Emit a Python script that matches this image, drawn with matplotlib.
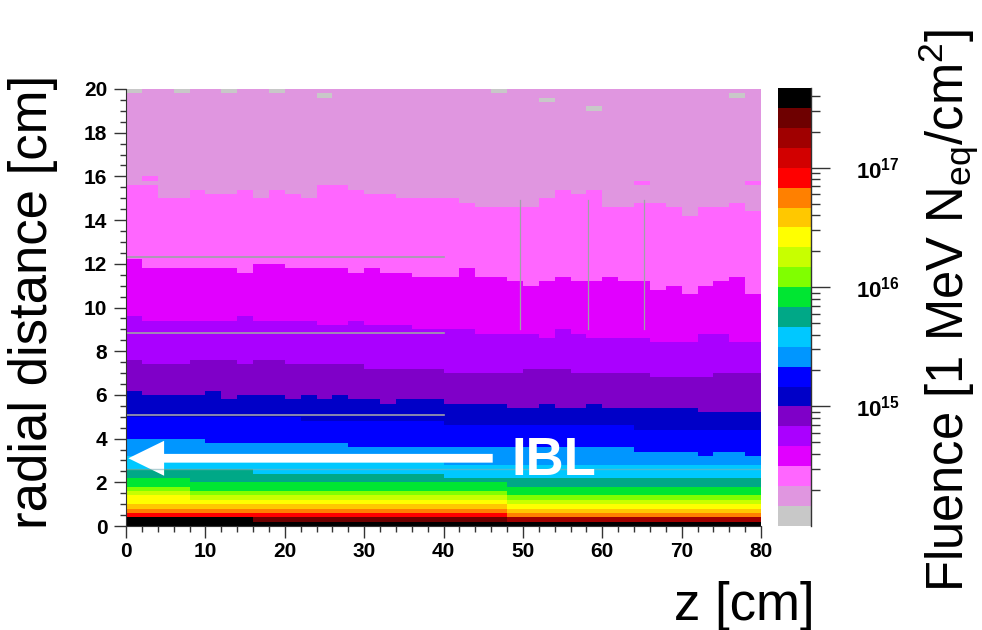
import numpy as np
import matplotlib
matplotlib.use("Agg")
import matplotlib.pyplot as plt
from matplotlib.colors import ListedColormap, LogNorm
from matplotlib.patches import FancyArrow
from matplotlib.ticker import LogLocator, MultipleLocator, NullFormatter

plt.rcParams['font.family'] = ['Liberation Sans', 'DejaVu Sans']
plt.rcParams['mathtext.fontset'] = 'custom'
plt.rcParams['mathtext.rm'] = 'Liberation Sans'
plt.rcParams['mathtext.bf'] = 'Liberation Sans:bold'
plt.rcParams['mathtext.it'] = 'Liberation Sans:italic'
plt.rcParams['mathtext.default'] = 'regular'

# palette bands (log10 fluence from 14 to 17.67 in steps of 1/6), low -> high
band_colors = ["#c8c8c8", "#e096e0", "#ff66ff", "#e100ff", "#aa00ff", "#7f00c8",
               "#0000c8", "#0000ff", "#0096ff", "#00c8ff", "#00a887", "#00e632",
               "#80ff00", "#c8ff00", "#ffff00", "#ffc800", "#ff8000", "#ff0000",
               "#d20000", "#a00000", "#6e0000", "#000000"]

# histogram binning: 2 cm in z, 0.2 cm in r
z_bin = 2.0
r_bin = 0.2

# upper edge (r, cm) of each band vs z, as steps (z_from, r_top), band 2 .. 21
pink_top = [(0, 15.6), (4, 15.0), (8, 15.4), (10, 15.2), (14, 15.4), (16, 15.0), (18, 15.4),
            (20, 15.2), (22, 15.0), (24, 15.6), (28, 15.4), (30, 15.2), (34, 15.0),
            (42, 14.8), (44, 14.6), (52, 15.0), (54, 15.4), (56, 15.2), (58, 15.4),
            (60, 14.6), (64, 14.8), (68, 14.6), (70, 14.2), (72, 14.6), (76, 14.8), (78, 14.4)]
magenta_top = [(0, 12.2), (2, 11.8), (14, 11.6), (16, 12.0), (20, 11.8), (28, 11.6), (30, 11.8),
               (32, 11.6), (36, 11.4), (42, 11.8), (44, 11.4), (48, 11.2), (50, 11.0), (52, 11.2),
               (54, 11.4), (56, 11.2), (60, 11.4), (62, 11.2), (66, 10.8), (68, 11.0), (70, 10.6),
               (72, 11.0), (74, 11.2), (76, 11.4), (78, 10.6)]
violet_top = [(0, 9.6), (2, 9.4), (14, 9.6), (16, 9.4), (24, 9.2), (28, 9.4), (30, 9.2), (36, 9.0),
              (44, 8.8), (52, 8.6), (54, 9.0), (56, 8.8), (58, 8.6), (66, 8.4), (72, 8.8), (76, 8.4)]
purple_top = [(0, 7.6), (2, 7.4), (8, 7.6), (14, 7.4), (16, 7.6), (20, 7.4), (30, 7.2), (40, 7.0),
              (50, 7.2), (56, 7.0), (66, 6.8), (74, 7.0)]
darkblue_top = [(0, 6.2), (2, 6.0), (10, 6.2), (12, 5.8), (14, 6.0), (20, 5.8), (22, 6.0), (24, 5.8),
                (26, 6.0), (28, 5.8), (32, 5.6), (34, 5.8), (40, 5.6), (48, 5.4), (52, 5.6), (54, 5.4),
                (58, 5.6), (60, 5.4), (72, 5.2)]
blue_top = [(0, 5.0), (22, 4.8), (40, 4.6), (64, 4.4)]
lightblue_top = [(0, 4.0), (10, 3.8), (28, 3.6), (64, 3.4), (72, 3.2), (74, 3.4), (78, 3.2)]
cyan_top = [(0, 3.2), (10, 3.0), (40, 2.8)]
teal_top = [(0, 2.6), (16, 2.4), (40, 2.2)]
green_top = [(0, 2.2), (8, 2.0), (48, 1.8)]
lime_top = [(0, 1.8), (8, 1.6), (48, 1.4)]
yellowgreen_top = [(0, 1.6), (8, 1.4), (48, 1.2)]
yellow_top = [(0, 1.4), (8, 1.2), (48, 1.0)]
amber_top = [(0, 1.0), (48, 0.8)]
orange_top = [(0, 0.8), (48, 0.6)]
red_top = [(0, 0.6), (48, 0.4)]
red2_top = [(0, 0.4)]
darkred_top = [(0, 0.4)]
maroon_top = [(0, 0.4), (48, 0.2)]
black_top = [(0, 0.4), (16, 0.2)]

band_tops = [pink_top, magenta_top, violet_top, purple_top, darkblue_top, blue_top,
             lightblue_top, cyan_top, teal_top, green_top, lime_top, yellowgreen_top,
             yellow_top, amber_top, orange_top, red_top, red2_top, darkred_top,
             maroon_top, black_top]

# single cells (z_from, r_from) with the lowest band at the top edge, and stray pink cells
gray_cells = [(0, 19.8), (6, 19.8), (12, 19.8), (18, 19.8), (24, 19.6), (46, 19.8),
              (52, 19.4), (58, 19.0), (76, 19.6)]
pink_cells = [(2, 15.8), (64, 15.6), (78, 15.6)]

# detector outlines drawn in gray
h_lines_r = [12.3, 8.85, 5.1]
h_lines_z = (0, 40)
v_lines_z = [49.7, 58.2, 65.2]
v_lines_r = (9.0, 14.9)

z_edges = np.arange(0, 80 + z_bin, z_bin)
r_edges = np.arange(0, 20 + r_bin / 2, r_bin)
z_lo = z_edges[:-1]
r_mid = 0.5 * (r_edges[:-1] + r_edges[1:])

level = np.ones((len(r_mid), len(z_lo)), dtype=int)
for k, steps in enumerate(band_tops, start=2):
    for i, z in enumerate(z_lo):
        top = [r for zf, r in steps if zf <= z + 1e-9][-1]
        level[r_mid < top, i] = k
for zf, rf in gray_cells:
    level[int(round(rf / r_bin)), int(round(zf / z_bin))] = 0
for zf, rf in pink_cells:
    level[int(round(rf / r_bin)), int(round(zf / z_bin))] = 2

n_band = len(band_colors)
fluence = 10.0 ** (14 + (level + 0.5) / 6.0)
norm = LogNorm(vmin=1e14, vmax=10 ** (14 + n_band / 6.0))
cmap = ListedColormap(band_colors)

W, H = 982, 630
fig = plt.figure(figsize=(W / 100, H / 100), dpi=100)
ax = fig.add_axes([126 / W, 1 - 526 / H, 635 / W, 437 / H])
mesh = ax.pcolormesh(z_edges, r_edges, fluence, cmap=cmap, norm=norm)

for r in h_lines_r:
    ax.plot(h_lines_z, [r, r], color="#a0a0a8", lw=1.2)
for z in v_lines_z:
    ax.plot([z, z], v_lines_r, color="#a0a0a8", lw=0.9)
ax.plot([0, 80], [2.6, 2.6], color="#80b0b8", lw=1.0, alpha=0.6)

ax.add_patch(FancyArrow(46.2, 3.1, -45.9, 0, width=0.4, head_width=1.6, head_length=4.5,
                        length_includes_head=True, color="white", lw=0))
ax.text(48.6, 2.33, "IBL", color="white", fontsize=38, fontweight="bold",
        ha="left", va="baseline")

ax.set_xlim(0, 80)
ax.set_ylim(0, 20)
ax.xaxis.set_major_locator(MultipleLocator(10))
ax.xaxis.set_minor_locator(MultipleLocator(2))
ax.yaxis.set_major_locator(MultipleLocator(2))
ax.yaxis.set_minor_locator(MultipleLocator(0.5))
ax.tick_params(which="both", direction="out", color="#333333", width=1)
ax.tick_params(which="major", length=8.5, labelsize=15)
ax.tick_params(which="minor", length=4.5)
ax.tick_params(axis="x", pad=3)
ax.tick_params(axis="y", pad=5)
for lab in ax.get_xticklabels() + ax.get_yticklabels():
    lab.set_fontweight("bold")
for s in ["top", "right"]:
    ax.spines[s].set_visible(False)
for s in ["left", "bottom"]:
    ax.spines[s].set_color("#333333")

cax = fig.add_axes([778 / W, 1 - 525.7 / H, 32.7 / W, 437.4 / H])
cbar = fig.colorbar(mesh, cax=cax)
cbar.outline.set_visible(False)
cax.plot([1, 1], [0, 1], transform=cax.transAxes, color="#333333", lw=1, clip_on=False)
cbar.set_ticks([1e15, 1e16, 1e17])
cbar.set_ticklabels([r"$\mathbf{10^{15}}$", r"$\mathbf{10^{16}}$", r"$\mathbf{10^{17}}$"])
cax.yaxis.set_minor_locator(LogLocator(base=10, subs=np.arange(2, 10)))
cax.yaxis.set_minor_formatter(NullFormatter())
cax.tick_params(which="both", direction="out", color="#333333", width=1)
cax.tick_params(which="major", length=13.5, labelsize=16, pad=19)
cax.tick_params(which="minor", length=6.5)

fig.text(33 / W, 1 - 75 / H, "radial distance [cm]", rotation=90, ha="center", va="top",
         fontsize=38)
fig.text(815 / W, 1 - 620 / H, "z [cm]", ha="right", va="baseline", fontsize=38)
fig.text(949 / W, 1 - 592 / H, r"Fluence [1 MeV N$_{eq}$/cm$^{2}$]", rotation=90,
         ha="center", va="bottom", fontsize=36.5)

fig.savefig("out.png", dpi=100)
